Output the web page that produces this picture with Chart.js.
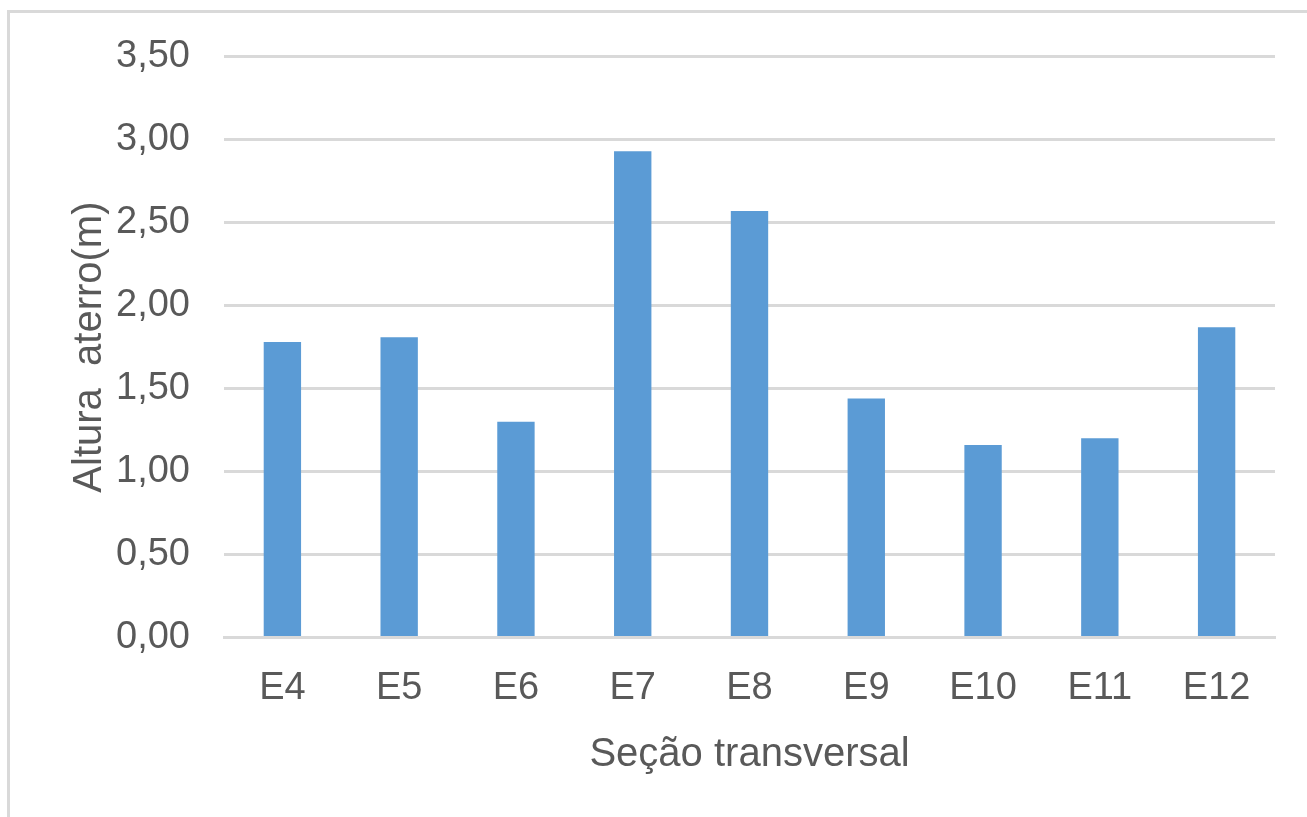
<!DOCTYPE html>
<html>
<head>
<meta charset="utf-8">
<script src="https://cdn.jsdelivr.net/npm/chart.js@4/dist/chart.umd.min.js"></script>
<style>
	html, body { margin: 0; padding: 0; background: #fff; }
	#wrap { width: 1307px; height: 817px; position: relative; }
</style>
</head>
<body>
<div id="wrap"><canvas id="chart"></canvas></div>
<script>
	'use strict';

	var categories = ['E4', 'E5', 'E6', 'E7', 'E8', 'E9', 'E10', 'E11', 'E12'];
	var alturas = [1.78, 1.81, 1.30, 2.93, 2.57, 1.44, 1.16, 1.20, 1.87];
	var yTitle = 'Altura  aterro(m)';
	var xTitle = 'Seção transversal';

	var textColor = '#595959',
		gridColor = '#d9d9d9',
		barColor = '#5b9bd5',
		fontFamily = '"Liberation Sans", Arial, sans-serif';

	// light frame around the chart (cut off on the right and bottom)
	var framePlugin = {
		id: 'frame',
		beforeDraw: function (chart) {
			var ctx = chart.ctx;
			ctx.save();
			ctx.strokeStyle = gridColor;
			ctx.lineWidth = 3;
			ctx.strokeRect(8.5, 11.5, 1400, 900);
			ctx.restore();
		}
	};

	new Chart(document.getElementById('chart'), {
		type: 'bar',
		data: {
			labels: categories,
			datasets: [{
				label: yTitle,
				data: alturas,
				backgroundColor: barColor,
				borderWidth: 0,
				barPercentage: 0.32,
				categoryPercentage: 1
			}]
		},
		options: {
			responsive: true,
			maintainAspectRatio: false,
			animation: false,
			layout: { padding: { top: 48, right: 32, left: 62, bottom: 38 } },
			plugins: {
				legend: { display: false },
				tooltip: { enabled: false }
			},
			scales: {
				x: {
					grid: { display: false },
					border: { color: gridColor, width: 3 },
					ticks: { color: textColor, font: { family: fontFamily, size: 38 }, padding: 20 },
					title: {
						display: true,
						text: xTitle,
						color: textColor,
						font: { family: fontFamily, size: 40 },
						padding: { top: 0, bottom: 0 }
					}
				},
				y: {
					min: 0,
					max: 3.5,
					border: { display: false },
					grid: { color: gridColor, lineWidth: 3, drawTicks: false },
					ticks: {
						stepSize: 0.5,
						color: textColor,
						font: { family: fontFamily, size: 38 },
						padding: 34,
						callback: function (v) { return v.toFixed(2).replace('.', ','); }
					},
					title: {
						display: true,
						text: yTitle,
						color: textColor,
						font: { family: fontFamily, size: 40 },
						padding: { bottom: 0 }
					},
					afterFit: function (scale) { scale.width = 162; }
				}
			}
		},
		plugins: [framePlugin]
	});
</script>
</body>
</html>
